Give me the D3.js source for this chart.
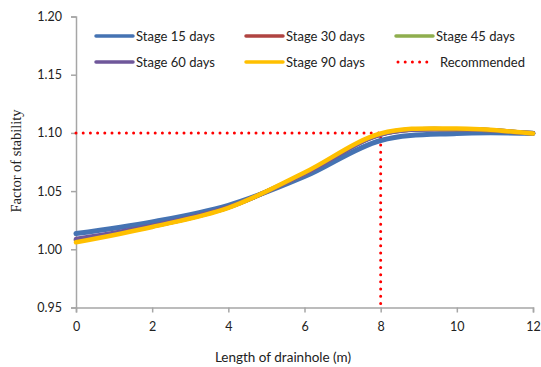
<!DOCTYPE html>
<html><head><meta charset="utf-8">
<script src="https://cdn.jsdelivr.net/npm/d3@7"></script>
<style>
body{margin:0;background:#fff;}
text{font-family:Lato,sans-serif;}
</style></head>
<body><svg id="c" width="541" height="367"></svg>
<script>
const xs = [0,2,4,6,8,10,12];
const stage15 = [1.0135,1.0235,1.0378,1.0625,1.0935,1.0995,1.0996];
const stage30 = [1.0078,1.0197,1.0360,1.0650,1.0987,1.1032,1.0996];
const stage45 = [1.0080,1.0198,1.0361,1.0650,1.0987,1.1032,1.0996];
const stage60 = [1.0088,1.0202,1.0362,1.0649,1.0985,1.1031,1.0996];
const stage90 = [1.0060,1.0192,1.0356,1.0660,1.0995,1.1037,1.0995];
const seriesNames = ["Stage 15 days","Stage 30 days","Stage 45 days","Stage 60 days","Stage 90 days"];
const seriesColors = ["#4573b3","#b04441","#8fae4e","#6f579a","#ffc000"];
const recX = [0,8,8];
const recY = [1.10,1.10,0.95];
const xTicks = [0,2,4,6,8,10,12];
const yTicks = [0.95,1.00,1.05,1.10,1.15,1.20];

const svg = d3.select("#c");
const x = d3.scaleLinear().domain([0,12]).range([76,533]);
const y = d3.scaleLinear().domain([0.95,1.20]).range([307.5,16.5]);
const axisColor = "#a6a6a6";

const gx = svg.append("g").attr("transform","translate(0,307.5)")
  .call(d3.axisBottom(x).tickValues(xTicks).tickFormat(d3.format("d")).tickSize(5).tickPadding(10));
const gy = svg.append("g").attr("transform","translate(76,0)")
  .call(d3.axisLeft(y).tickValues(yTicks).tickFormat(d3.format(".2f")).tickSize(5).tickPadding(9));
[gx,gy].forEach(g=>{
  g.select(".domain").attr("stroke",axisColor).attr("stroke-width",1.5);
  g.selectAll(".tick line").attr("stroke",axisColor).attr("stroke-width",1.5);
  g.selectAll(".tick text").attr("fill","#222").style("font-size","12.5px")
   .style("font-family","Lato,sans-serif");
});

svg.append("text").attr("x",283).attr("y",362).attr("text-anchor","middle")
  .style("font-size","13.5px").attr("fill","#222").text("Length of drainhole (m)");
svg.append("text").attr("transform","translate(21,161) rotate(-90)").attr("text-anchor","middle")
  .style("font-family",'"Liberation Serif","Times New Roman",serif').style("font-size","14.5px")
  .attr("fill","#222").text("Factor of stability");

const line = d3.line().x(d=>x(d[0])).y(d=>y(d[1]));
svg.append("path").datum(recX.map((v,i)=>[v,recY[i]]))
  .attr("d",line).attr("fill","none").attr("stroke","#ff0000")
  .attr("stroke-width",3).attr("stroke-linecap","round").attr("stroke-dasharray","0,7.2");

const all = [stage15,stage30,stage45,stage60,stage90];
const sm = d3.line().x(d=>x(d[0])).y(d=>y(d[1])).curve(d3.curveCatmullRom.alpha(0.5));
all.forEach((s,i)=>{
  svg.append("path").datum(xs.map((v,j)=>[v,s[j]]))
    .attr("d",sm).attr("fill","none").attr("stroke",seriesColors[i])
    .attr("stroke-width",i===0?5:4.5).attr("stroke-linecap","round");
});

const legItems = seriesNames.map((n,i)=>({name:n,color:seriesColors[i],dot:false}))
  .concat([{name:"Recommended",color:"#ff0000",dot:true}]);
const colX = [96,246,396], rowY = [36,62];
legItems.forEach((it,i)=>{
  const cx = colX[i%3], cy = rowY[Math.floor(i/3)];
  const g = svg.append("g");
  if(it.dot){
    g.append("line").attr("x1",cx+2).attr("x2",cx+32).attr("y1",cy).attr("y2",cy)
     .attr("stroke",it.color).attr("stroke-width",3).attr("stroke-linecap","round")
     .attr("stroke-dasharray","0,7.2");
    g.append("text").attr("x",cx+44).attr("y",cy+5).style("font-size","13px").attr("fill","#222").text(it.name);
  } else {
    g.append("line").attr("x1",cx).attr("x2",cx+37).attr("y1",cy).attr("y2",cy)
     .attr("stroke",it.color).attr("stroke-width",3.5).attr("stroke-linecap","round");
    g.append("text").attr("x",cx+40).attr("y",cy+5).style("font-size","13px").attr("fill","#222").text(it.name);
  }
});
</script></body></html>
